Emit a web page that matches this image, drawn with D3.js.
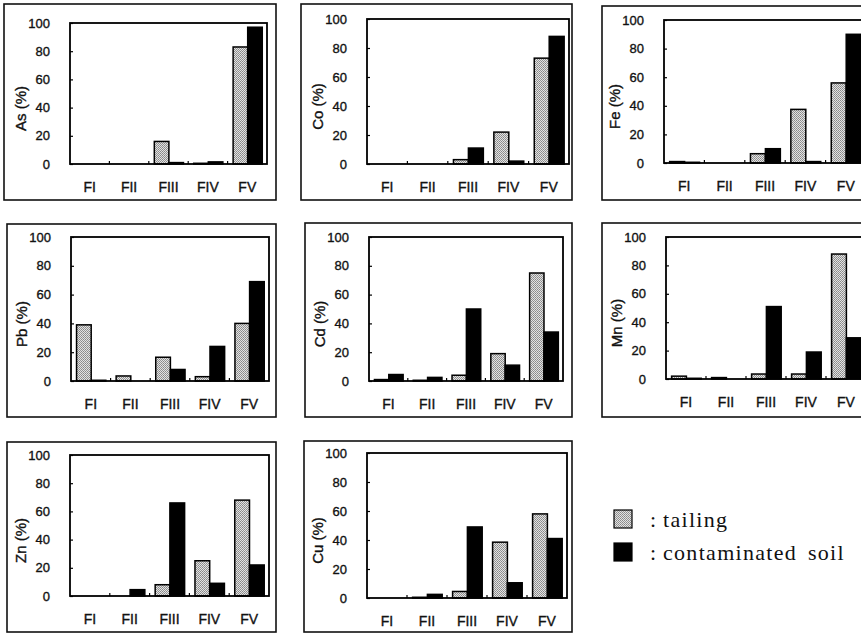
<!DOCTYPE html>
<html>
<head>
<meta charset="utf-8">
<script src="https://cdn.jsdelivr.net/npm/d3@7"></script>
<style>
  body { margin: 0; background: #fff; }
  svg { display: block; }
  .tick text { font-family: Arial, "Liberation Sans", sans-serif; fill: #111; stroke: #111; stroke-width: 0.35px; }
</style>
</head>
<body>
<div id="chart"></div>
<script>
// categories and values (percent of total for each fraction)
const fractions = ["FI", "FII", "FIII", "FIV", "FV"];
const elements = ["As", "Co", "Fe", "Pb", "Cd", "Mn", "Zn", "Cu"];
const series = ["tailing", "contaminated soil"];
const yTicks = [0, 20, 40, 60, 80, 100];

// tailing, one row per element (same order as elements)
const tailingValues = [
  [0, 0, 16, 0.5, 83],
  [0, 0, 3, 22, 73],
  [1, 0, 6.5, 37.5, 56],
  [39, 3.5, 16.5, 3, 40],
  [1, 0.5, 4, 19, 75],
  [2, 1, 3.5, 3.5, 88],
  [0, 0, 8, 25, 68],
  [0, 0.5, 4.5, 38.5, 58]
];

// contaminated soil
const soilValues = [
  [0, 0, 1, 1.5, 97],
  [0, 0, 11, 2, 88],
  [0.5, 0, 10, 1, 90],
  [0.5, 0, 8, 24, 69],
  [4.5, 2.5, 50, 11, 34],
  [0.5, 0, 51, 19, 29],
  [0, 4.5, 66, 9, 22],
  [0, 2.5, 49, 10.5, 41]
];

// panel frames (outer box and plot area), page pixels
const layout = [
  { box: [4, 4, 276, 200],     plot: [70, 23, 267, 164] },
  { box: [301, 4, 572, 200],   plot: [367, 19, 569, 164] },
  { box: [602, 6, 872, 200],   plot: [664, 20, 866, 163] },
  { box: [7, 224, 276, 417],   plot: [71, 237, 269, 381] },
  { box: [305, 223, 572, 417], plot: [369, 237, 563, 381] },
  { box: [602, 223, 872, 417], plot: [666, 237, 866, 379] },
  { box: [7, 442, 276, 632],   plot: [70, 455, 269, 596] },
  { box: [304, 441, 572, 632], plot: [367, 453, 567, 598] }
];

const W = 861, H = 633;

const svg = d3.select("#chart")
  .append("svg")
  .attr("width", W)
  .attr("height", H);

// stippled fill for the tailing bars
const defs = svg.append("defs");
const pat = defs.append("pattern")
  .attr("id", "stipple")
  .attr("patternUnits", "userSpaceOnUse")
  .attr("width", 2)
  .attr("height", 2);
pat.append("rect").attr("width", 2).attr("height", 2).attr("fill", "#e2e2e2");
pat.append("rect").attr("x", 0).attr("y", 0).attr("width", 1).attr("height", 1).attr("fill", "#888");
pat.append("rect").attr("x", 1).attr("y", 1).attr("width", 1).attr("height", 1).attr("fill", "#969696");

const fills = ["url(#stipple)", "#000"];

elements.forEach(function(el, i) {
  const L = layout[i];
  const [bx0, by0, bx1, by1] = L.box;
  const [px0, py0, px1, py1] = L.plot;
  const pw = px1 - px0, ph = py1 - py0;

  // outer box
  svg.append("rect")
    .attr("x", bx0).attr("y", by0)
    .attr("width", bx1 - bx0).attr("height", by1 - by0)
    .attr("fill", "none")
    .attr("stroke", "#111")
    .attr("stroke-width", 1.6);

  const g = svg.append("g").attr("transform", `translate(${px0}, ${py0})`);

  const x = d3.scaleBand().domain(fractions).range([0, pw]).padding(0);
  const xs = d3.scaleBand().domain(series)
    .range([x.bandwidth() * 0.14, x.bandwidth() * 0.88]).padding(0);
  const y = d3.scaleLinear().domain([0, 100]).range([ph, 0]);

  const rows = fractions.map((f, j) => ({ f: f, vals: [tailingValues[i][j], soilValues[i][j]] }));

  // bars
  rows.forEach(function(r) {
    r.vals.forEach(function(v, k) {
      if (v <= 0) return;
      g.append("rect")
        .attr("x", x(r.f) + xs(series[k]))
        .attr("y", y(v))
        .attr("width", xs.bandwidth())
        .attr("height", ph - y(v))
        .attr("fill", fills[k])
        .attr("stroke", "#000")
        .attr("stroke-width", 1.5);
    });
  });

  // y axis with inward ticks
  const yAxis = g.append("g")
    .call(d3.axisLeft(y).tickValues(yTicks).tickSize(-3).tickPadding(20));
  yAxis.select(".domain").remove();
  yAxis.selectAll("line").attr("stroke", "#000").attr("stroke-width", 1.2);
  yAxis.selectAll("text").style("font-size", "13px");

  // x axis labels
  const xAxis = g.append("g")
    .attr("transform", `translate(0, ${ph})`)
    .call(d3.axisBottom(x).tickSize(0).tickPadding(18));
  xAxis.select(".domain").remove();
  xAxis.selectAll("text").style("font-size", "14px");

  // small inward ticks between fractions
  g.append("g").selectAll("line")
    .data(fractions.slice(1))
    .join("line")
    .attr("x1", d => x(d)).attr("x2", d => x(d))
    .attr("y1", ph).attr("y2", ph - 3)
    .attr("stroke", "#000").attr("stroke-width", 1.2);

  // plot frame
  g.append("rect")
    .attr("width", pw).attr("height", ph)
    .attr("fill", "none")
    .attr("stroke", "#000")
    .attr("stroke-width", 1.8);

  // y label
  g.append("text")
    .attr("transform", `translate(-49, ${ph / 2 + 15}) rotate(-90)`)
    .attr("text-anchor", "middle")
    .attr("dy", "0.35em")
    .style("font-family", "Arial, 'Liberation Sans', sans-serif")
    .style("font-size", "15px")
    .style("fill", "#111")
    .style("stroke", "#111")
    .style("stroke-width", "0.35px")
    .text(el + " (%)");
});

// legend
const legend = svg.append("g").attr("transform", "translate(614, 510)");
series.forEach(function(s, k) {
  const row = legend.append("g").attr("transform", `translate(0, ${k * 33})`);
  row.append("rect")
    .attr("width", 18).attr("height", 18)
    .attr("fill", fills[k])
    .attr("stroke", "#000")
    .attr("stroke-width", 1.2);
  row.append("text")
    .attr("x", 36).attr("y", 17)
    .style("font-family", "'Liberation Serif', 'DejaVu Serif', serif")
    .style("font-size", "22px")
    .style("fill", "#111")
    .text(":");
  row.append("text")
    .attr("x", 49).attr("y", 17)
    .style("font-family", "'Liberation Serif', 'DejaVu Serif', serif")
    .style("font-size", "22px")
    .style("letter-spacing", "1.3px")
    .style("word-spacing", "4px")
    .style("fill", "#111")
    .text(s);
});
</script>
</body>
</html>
